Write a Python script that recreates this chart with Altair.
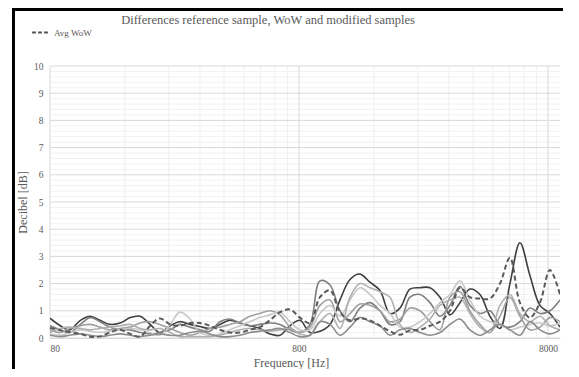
import altair as alt
import pandas as pd

# Frequencies (Hz) of the sample points
freqs = [80, 88, 96, 106, 116, 127, 139, 153, 168, 184, 202, 221, 243, 266, 292, 320, 351, 385,
         422, 463, 508, 557, 611, 671, 736, 807, 886, 971, 1066, 1169, 1282, 1406, 1542, 1692,
         1856, 2035, 2232, 2449, 2686, 2946, 3231, 3544, 3887, 4264, 4677, 5130, 5627, 6171,
         6769, 7425, 8146, 8938]

avg_wow = [0.37, 0.28, 0.22, 0.15, 0.05, 0.06, 0.2, 0.3, 0.15, 0.05, 0.45, 0.72, 0.5, 0.45, 0.55,
           0.55, 0.45, 0.3, 0.2, 0.2, 0.3, 0.4, 0.65, 0.95, 1.05, 0.75, 0.55, 1.5, 1.75, 0.95, 0.65,
           0.72, 0.65, 0.45, 0.25, 0.12, 0.28, 0.3, 0.45, 0.6, 1.0, 1.85, 1.5, 1.45, 1.45, 2.0,
           2.95, 1.3, 0.75, 1.3, 2.5, 1.6]

sample_1 = [0.73, 0.45, 0.3, 0.65, 0.8, 0.65, 0.5, 0.55, 0.75, 0.8, 0.5, 0.2, 0.45, 0.6, 0.5,
            0.42, 0.35, 0.5, 0.65, 0.55, 0.45, 0.35, 0.15, 0.1, 0.45, 0.65, 0.2, 0.25, 0.5, 1.4,
            2.15, 2.35, 2.05, 1.75, 0.9, 1.1, 1.8, 1.85, 1.85, 1.5, 0.85, 1.3, 1.8, 1.6, 0.8, 0.35,
            2.0, 3.5, 2.3, 1.2, 0.9, 0.4]

sample_2 = [0.45, 0.3, 0.2, 0.5, 0.75, 0.6, 0.4, 0.3, 0.3, 0.2, 0.15, 0.2, 0.3, 0.5, 0.4, 0.3,
            0.25, 0.6, 0.7, 0.55, 0.45, 0.5, 0.55, 0.5, 0.3, 0.2, 0.5, 2.1, 1.95, 1.0, 0.6, 1.1,
            1.3, 1.0, 0.5, 0.6, 1.5, 1.6, 1.3, 0.8, 1.2, 1.9, 1.2, 0.9, 1.0, 0.5, 0.4, 0.6, 1.1,
            0.9, 1.0, 1.4]

sample_3 = [0.3, 0.2, 0.35, 0.45, 0.5, 0.4, 0.3, 0.35, 0.4, 0.55, 0.6, 0.5, 0.35, 0.2, 0.1, 0.2,
            0.35, 0.4, 0.5, 0.6, 0.8, 0.9, 1.0, 0.85, 0.4, 0.2, 0.4, 1.2, 1.4, 0.6, 0.9, 1.25, 1.2,
            1.0, 0.6, 0.7, 1.1, 1.0, 0.6, 0.3, 1.5, 1.7, 1.0, 0.5, 0.2, 0.8, 1.5, 0.8, 0.3, 0.4,
            0.75, 0.6]

sample_4 = [0.15, 0.1, 0.2, 0.3, 0.25, 0.2, 0.25, 0.3, 0.35, 0.3, 0.2, 0.1, 0.5, 0.95, 0.7, 0.2,
            0.1, 0.15, 0.3, 0.45, 0.6, 0.75, 0.85, 0.95, 0.6, 0.3, 0.3, 0.9, 1.2, 0.8, 1.4, 1.85,
            1.6, 1.2, 0.9, 0.4, 0.4, 0.6, 0.9, 1.3, 1.6, 2.1, 1.4, 0.8, 0.6, 0.5, 0.3, 0.4, 0.5,
            0.55, 0.45, 0.55]

sample_5 = [0.2, 0.35, 0.4, 0.35, 0.3, 0.35, 0.4, 0.45, 0.5, 0.35, 0.3, 0.35, 0.2, 0.05, 0.05,
            0.05, 0.05, 0.1, 0.2, 0.3, 0.35, 0.3, 0.25, 0.3, 0.35, 0.15, 0.1, 0.6, 0.9, 0.35, 1.5,
            2.0, 1.85, 1.7, 1.5, 0.5, 0.2, 0.4, 0.7, 1.2, 1.4, 1.5, 0.9, 0.4, 0.2, 1.2, 1.6, 0.9,
            0.6, 0.8, 0.45, 0.3]

sample_6 = [0.1, 0.05, 0.1, 0.15, 0.1, 0.05, 0.1, 0.15, 0.1, 0.05, 0.1, 0.15, 0.1, 0.1, 0.2,
            0.25, 0.15, 0.05, 0.05, 0.1, 0.2, 0.25, 0.3, 0.35, 0.2, 0.05, 0.1, 0.6, 0.5, 0.1, 0.4,
            0.75, 0.6, 0.45, 0.1, 0.3, 0.35, 0.2, 0.1, 0.2, 0.5, 0.7, 0.3, 0.1, 0.3, 0.5, 0.3, 0.1,
            0.6, 0.3, 0.15, 0.3]

sample_names = ["Sample 1", "Sample 2", "Sample 3", "Sample 4", "Sample 5", "Sample 6"]
sample_colors = ["#3f3f3f", "#7f7f7f", "#a0a0a0", "#c8c8c8", "#b0b0b0", "#8c8c8c"]
sample_values = [sample_1, sample_2, sample_3, sample_4, sample_5, sample_6]

x_ticks = [80, 800, 8000]
x_minor = [160, 240, 320, 400, 480, 560, 640, 720, 1600, 2400, 3200, 4000, 4800, 5600, 6400, 7200]
y_major = list(range(0, 11))
y_minor = [i / 5 for i in range(0, 51) if i % 5 != 0]

title_text = "Differences reference sample, WoW and modified samples"
FONT = "Liberation Serif"
TXT = "#595959"

rows = []
for name, vals in zip(sample_names, sample_values):
    for f, v in zip(freqs, vals):
        rows.append({"freq": f, "db": v, "series": name})
samples_df = pd.DataFrame(rows)
avg_df = pd.DataFrame({"freq": freqs, "db": avg_wow, "name": "Avg WoW"})

xscale = alt.Scale(type="log", domain=[80, 8940], nice=False)
yscale = alt.Scale(domain=[0, 10], nice=False)

xaxis = alt.Axis(values=x_ticks, format="d", grid=False, ticks=False, domain=True,
                 domainColor="#d9d9d9", labelPadding=5, titlePadding=5,
                 labelFont=FONT, labelFontSize=9.5, labelColor=TXT,
                 titleFont=FONT, titleFontSize=12, titleFontWeight="normal",
                 titleColor=TXT, titleX=241)
yaxis = alt.Axis(values=y_major, grid=False, ticks=False, domain=False,
                 labelPadding=7, titlePadding=4,
                 labelFont=FONT, labelFontSize=9.5, labelColor=TXT,
                 titleFont=FONT, titleFontSize=12, titleFontWeight="normal",
                 titleColor=TXT)
XT = "Frequency  [Hz]"
YT = "Decibel [dB]"

ymin_grid = alt.Chart(pd.DataFrame({"y": y_minor})).mark_rule(color="#f2f2f2", strokeWidth=1).encode(
    y=alt.Y("y:Q", scale=yscale, axis=yaxis, title=YT))
xmin_grid = alt.Chart(pd.DataFrame({"x": x_minor})).mark_rule(color="#efefef", strokeWidth=1).encode(
    x=alt.X("x:Q", scale=xscale, axis=xaxis, title=XT))
ymaj_grid = alt.Chart(pd.DataFrame({"y": y_major})).mark_rule(color="#d9d9d9", strokeWidth=1).encode(
    y=alt.Y("y:Q", scale=yscale, axis=yaxis, title=YT))
xmaj_grid = alt.Chart(pd.DataFrame({"x": x_ticks})).mark_rule(color="#d9d9d9", strokeWidth=1).encode(
    x=alt.X("x:Q", scale=xscale, axis=xaxis, title=XT))

solid = alt.Chart(samples_df).mark_line(interpolate="catmull-rom", strokeWidth=1.6, clip=True).encode(
    x=alt.X("freq:Q", scale=xscale, axis=xaxis, title=XT),
    y=alt.Y("db:Q", scale=yscale, axis=yaxis, title=YT),
    color=alt.Color("series:N", scale=alt.Scale(domain=sample_names, range=sample_colors), legend=None),
)

dashed = alt.Chart(avg_df).mark_line(interpolate="catmull-rom", strokeWidth=2, strokeDash=[5, 3], clip=True).encode(
    x=alt.X("freq:Q", scale=xscale, axis=xaxis, title=XT),
    y=alt.Y("db:Q", scale=yscale, axis=yaxis, title=YT),
    color=alt.Color("name:N", scale=alt.Scale(domain=["Avg WoW"], range=["#595959"]),
                    legend=alt.Legend(orient="none", legendX=-19, legendY=-43, title=None,
                                      symbolType="stroke", symbolDash=[4, 2], symbolStrokeWidth=2,
                                      symbolSize=289, labelFont=FONT, labelFontSize=9,
                                      labelColor=TXT, padding=0, labelOffset=4)),
)

title = alt.Chart(pd.DataFrame({"t": [title_text]})).mark_text(
    font=FONT, fontSize=12.5, color=TXT, align="center", baseline="middle").encode(
    text="t:N", x=alt.value(218), y=alt.value(-46))

frame_left = alt.Chart(pd.DataFrame({"a": [0]})).mark_rule(color="black", strokeWidth=3).encode(
    x=alt.value(-36.5), y=alt.value(-58), y2=alt.value(303))
frame_top = alt.Chart(pd.DataFrame({"a": [0]})).mark_rule(color="black", strokeWidth=3).encode(
    x=alt.value(-38), x2=alt.value(513), y=alt.value(-56.5))

chart = alt.layer(ymin_grid, xmin_grid, ymaj_grid, xmaj_grid, solid, dashed, title, frame_left, frame_top
).resolve_scale(color="independent").properties(
    width=510, height=272,
    autosize=alt.AutoSizeParams(type="none"),
    padding={"left": 42, "top": 58, "right": 11, "bottom": 31},
    background="white",
).configure_view(stroke=None)

chart.save("out.html", embed_options={"renderer": "svg", "actions": False})
